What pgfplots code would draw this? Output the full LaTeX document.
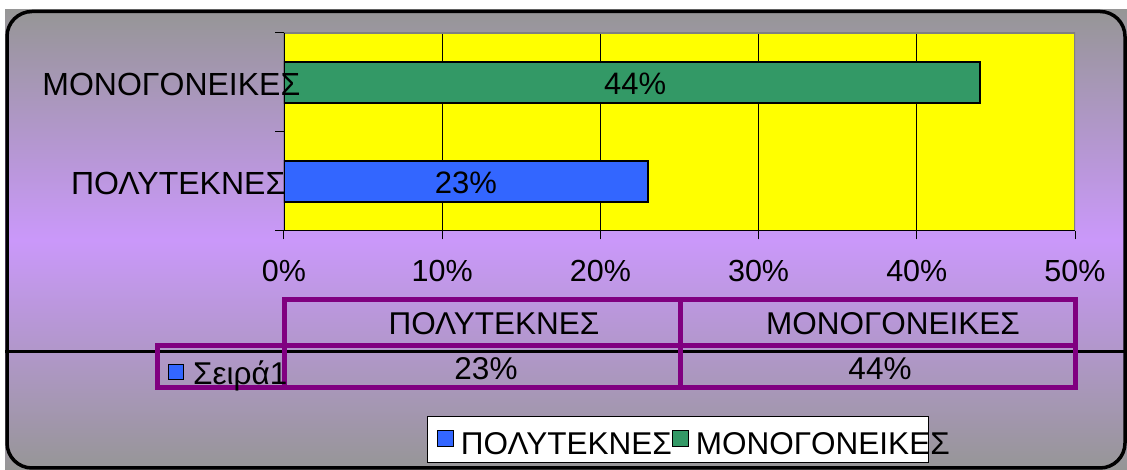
\documentclass[border=0pt]{standalone}
\usepackage{fontspec}
\setmainfont{Liberation Sans}
\usepackage{pgfplots}
\pgfplotsset{compat=1.18}
\definecolor{bggray}{RGB}{150,150,150}
\definecolor{bgpurple}{RGB}{202,152,250}
\definecolor{barblue}{RGB}{51,102,255}
\definecolor{bargreen}{RGB}{51,153,102}
\definecolor{tabpurple}{RGB}{128,0,128}
\definecolor{plotyellow}{RGB}{255,255,0}
\begin{document}
\begin{tikzpicture}
\useasboundingbox (0pt,0pt) rectangle (1127pt,470pt);
% background
\shade[top color=bggray, bottom color=bggray, middle color=bgpurple] (5pt,0pt) rectangle (1127pt,460pt);
\draw[line width=3.5pt, rounded corners=25pt] (7pt,2pt) rectangle (1125pt,458.5pt);
% black line
\draw[line width=3pt] (5pt,118.5pt) -- (1127pt,118.5pt);
% data table
\draw[tabpurple, line width=5pt] (284.5pt,170.5pt) rectangle (1075pt,124.5pt);
\draw[tabpurple, line width=5pt] (157.5pt,124.5pt) rectangle (1075pt,82.5pt);
\draw[tabpurple, line width=5pt] (680pt,170.5pt) -- (680pt,82.5pt);
\draw[tabpurple, line width=5pt] (284.5pt,124.5pt) -- (284.5pt,82.5pt);
\begin{scope}[every node/.style={font=\fontsize{31.5}{36}\selectfont, inner sep=0pt}]
\node at (494pt,146pt) {ΠΟΛΥΤΕΚΝΕΣ};
\node at (893pt,146pt) {ΜΟΝΟΓΟΝΕΙΚΕΣ};
\node at (486pt,101.5pt) {23\%};
\node at (880pt,101.5pt) {44\%};
\node[anchor=base west] at (193pt,85pt) {Σειρά1};
\end{scope}
\draw[fill=barblue, line width=1pt] (168pt,90pt) rectangle (183pt,105pt);
% legend box
\draw[fill=white, line width=1pt] (427pt,53pt) rectangle (928pt,7pt);
\begin{axis}[
  at={(284pt,239pt)}, anchor=south west,
  width=791pt, height=198pt, scale only axis,
  xmin=0, xmax=50, ymin=0.5, ymax=2.5,
  xtick={0,10,20,30,40,50},
  xticklabels={0\%,10\%,20\%,30\%,40\%,50\%},
  ytick={0.5,1.5,2.5},
  yticklabels={,,},
  extra y ticks={1,2},
  extra y tick labels={ΠΟΛΥΤΕΚΝΕΣ\rule{15pt}{0pt},ΜΟΝΟΓΟΝΕΙΚΕΣ},
  extra y tick style={tick style={draw=none}},
  xtick pos=bottom, ytick pos=left,
  tick align=outside,
  major tick length=8.5pt,
  tick style={black, line width=1pt},
  axis on top,
  axis background/.style={fill=plotyellow},
  axis line style={draw=none},
  xticklabel style={font=\fontsize{30.5}{36}\selectfont, anchor=north, inner sep=0pt, yshift=-21pt},
  yticklabel style={font=\fontsize{32}{36}\selectfont, anchor=east, inner sep=0pt, xshift=25pt, yshift=-2pt},
  legend columns=2,
  legend style={at={(axis description cs:0.1934,-1.07)}, anchor=west,
    draw=none, fill=none, inner sep=0pt, outer sep=0pt,
    font=\fontsize{31.5}{36}\selectfont,
    nodes={inner sep=0pt},
    /tikz/every odd column/.append style={column sep=7pt},
    /tikz/every even column/.append style={column sep=0pt}},
  legend image code/.code={\draw[#1, draw=black, line width=1pt] (0pt,-2pt) rectangle (16pt,14pt);},
]
\pgfplotsinvokeforeach{10,20,30,40}{\draw[black, line width=1pt] (axis cs:#1,0.5) -- (axis cs:#1,2.5);}
\addplot[xbar, bar width=41pt, bar shift=0pt, fill=barblue, draw=black, line width=1.5pt] coordinates {(23,1)};
\addplot[xbar, bar width=41pt, bar shift=0pt, fill=bargreen, draw=black, line width=1.5pt] coordinates {(44,2)};
\addplot[draw=none, mark=none, forget plot, nodes near coords, point meta=explicit symbolic,
  nodes near coords align=center,
  every node near coord/.append style={font=\fontsize{31}{36}\selectfont, inner sep=0pt, yshift=-1pt}]
  coordinates {(11.5,1) [23\%] (22.2,2) [44\%]};
\legend{ΠΟΛΥΤΕΚΝΕΣ,ΜΟΝΟΓΟΝΕΙΚΕΣ}
\draw[gray, line width=1.5pt] (rel axis cs:0,1) -- (rel axis cs:1,1) -- (rel axis cs:1,0);
\draw[black, line width=1.5pt] (rel axis cs:0,1) -- (rel axis cs:0,0) -- (rel axis cs:1,0);
\end{axis}
\end{tikzpicture}
\end{document}
